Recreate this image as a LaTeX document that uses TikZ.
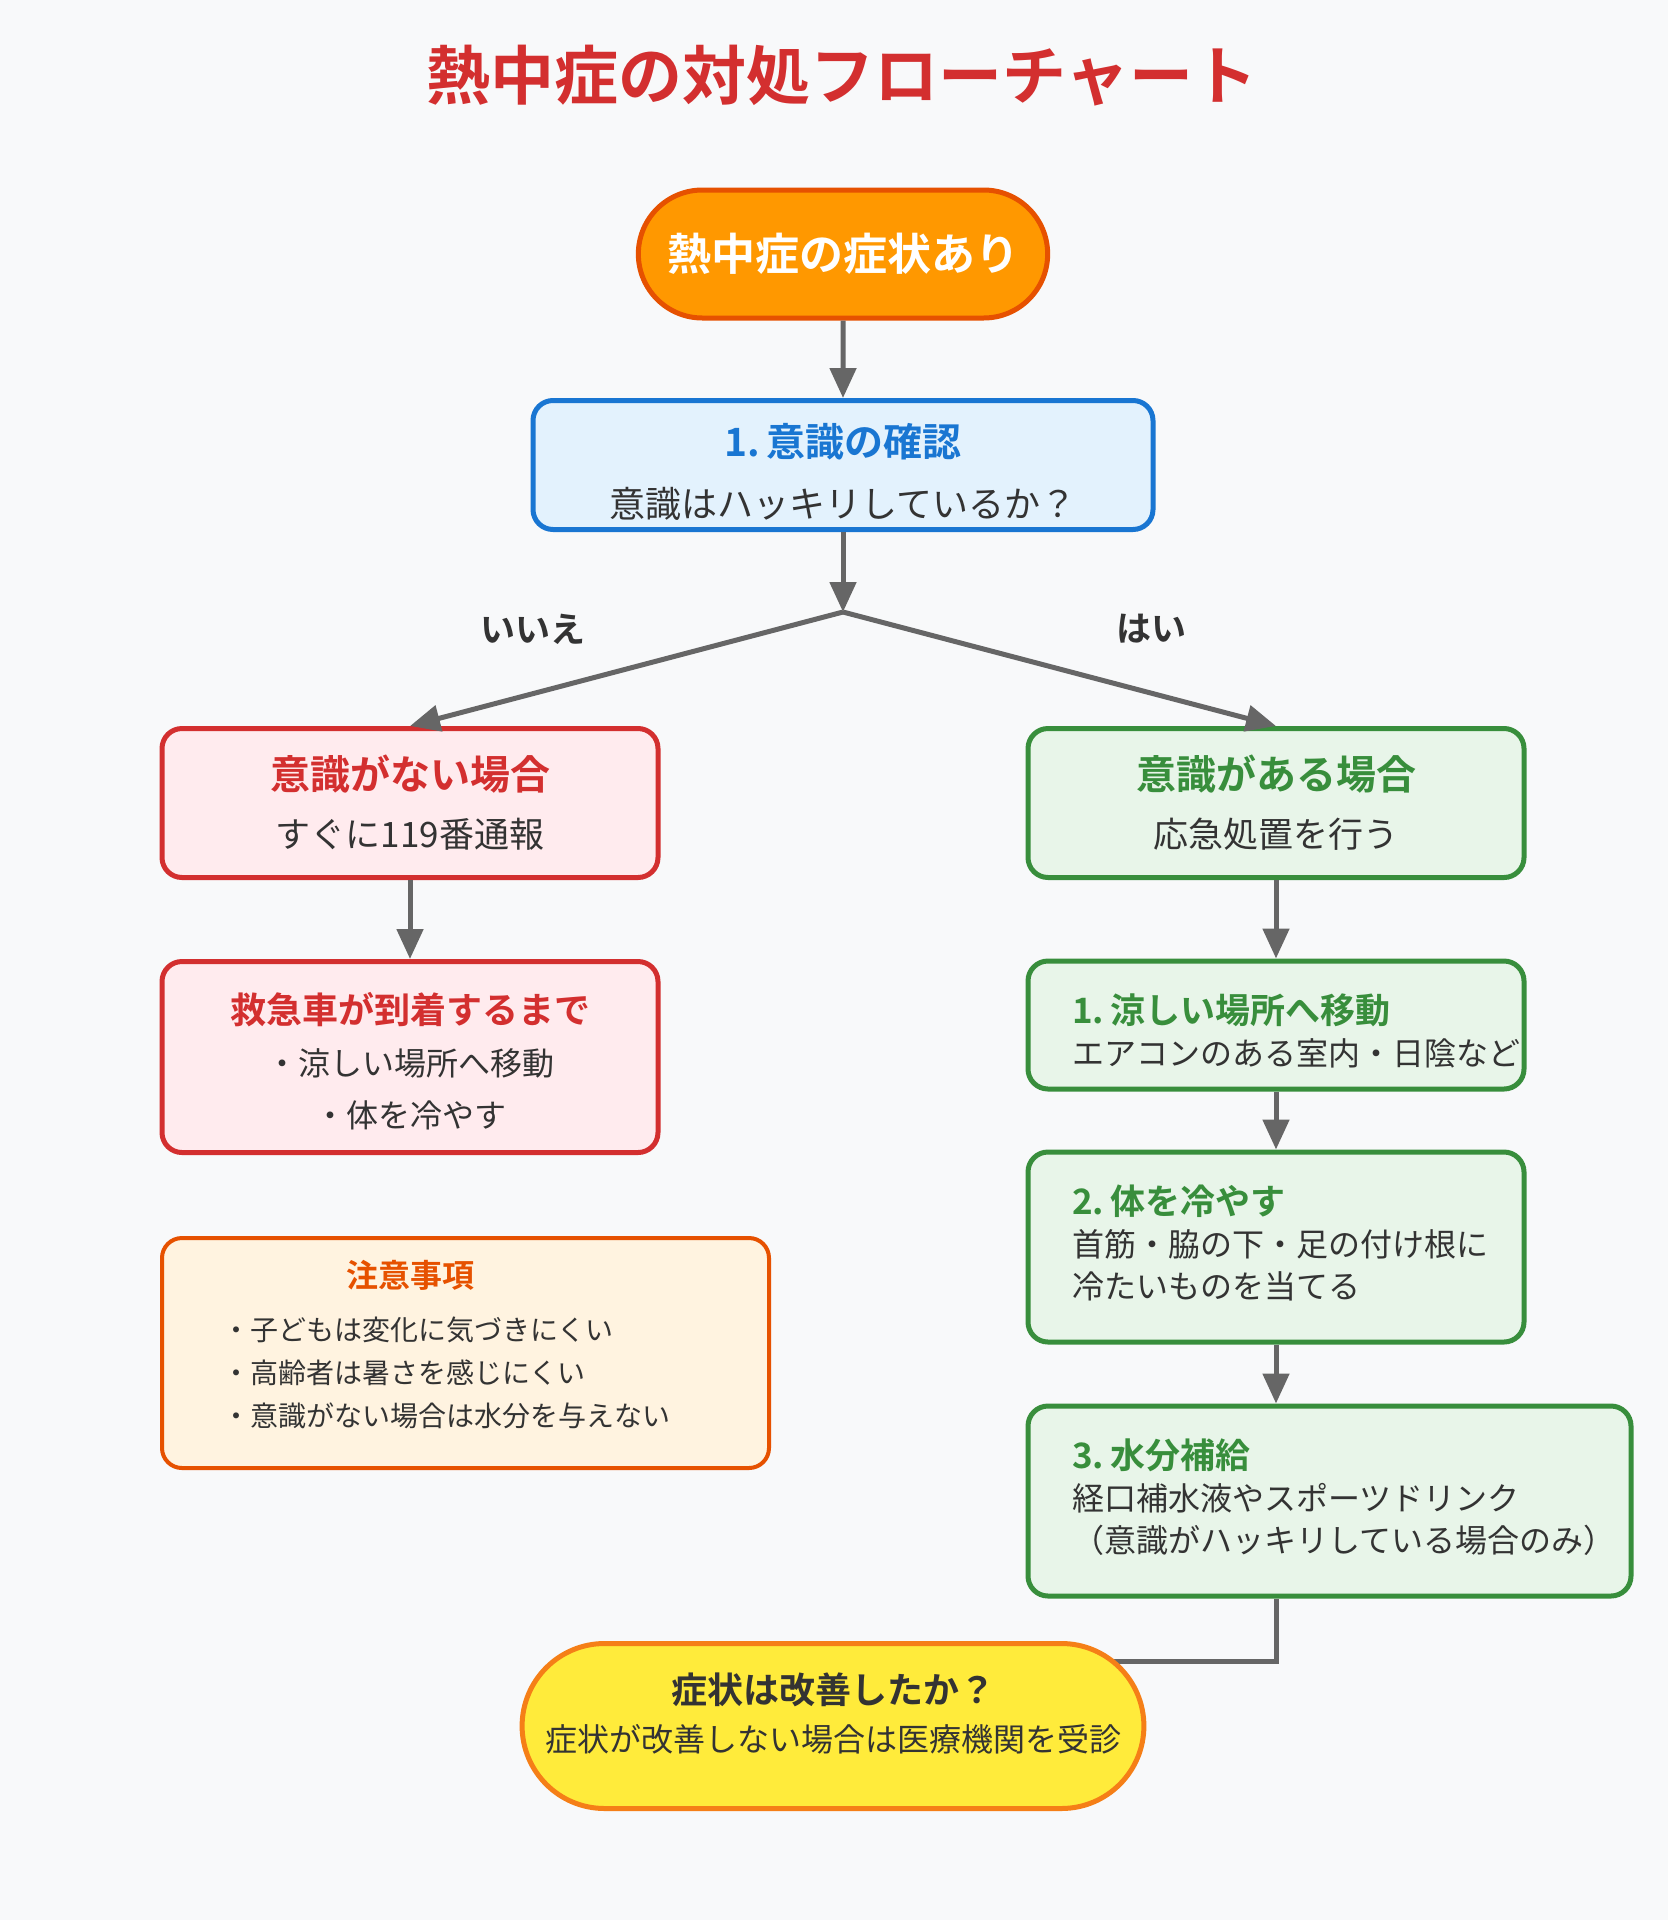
\documentclass[tikz,border=0pt]{standalone}
\usepackage{fontspec}
\setmainfont{Noto Sans CJK JP}[BoldFont={Noto Sans CJK JP Bold}]
\usetikzlibrary{arrows.meta,shapes.misc}
\definecolor{paper}{HTML}{F8F9FA}
\definecolor{ink}{HTML}{333333}
\definecolor{wire}{HTML}{666666}
\definecolor{heat}{HTML}{D32F2F}
\definecolor{heatfill}{HTML}{FFEBEE}
\definecolor{sun}{HTML}{FF9800}
\definecolor{sunline}{HTML}{E65100}
\definecolor{calm}{HTML}{1976D2}
\definecolor{calmfill}{HTML}{E3F2FD}
\definecolor{leaf}{HTML}{388E3C}
\definecolor{leaffill}{HTML}{E8F5E9}
\definecolor{notefill}{HTML}{FFF3E0}
\definecolor{lemon}{HTML}{FFEB3B}
\definecolor{lemonline}{HTML}{F57F17}
\newcommand{\fs}[2]{\fontsize{#1}{#2}\selectfont}
\begin{document}
\begin{tikzpicture}[x=1pt,y=-1pt,
    box/.style={draw,line width=5pt,rounded corners=20pt,minimum width=496pt,align=center,text=ink},
    pill/.style={rounded rectangle,draw,line width=5pt,align=center},
    stepbox/.style={box,draw=leaf,fill=leaffill,align=left,text width=408pt,inner xsep=44pt,font=\fs{32}{42}},
    link/.style={draw=wire,line width=5pt,-{Triangle[width=26pt,length=30pt]}}]
    \fill[paper] (0,0) rectangle (1668,1920);
    \node[text=heat,font=\fs{64}{64}\bfseries] (title) at (842,76) {熱中症の対処フローチャート};
    \node[pill,draw=sunline,fill=sun,text=white,font=\fs{44}{44}\bfseries,minimum width=416pt,minimum height=128pt] (start) at (843,254) {熱中症の症状あり};
    \node[box,draw=calm,fill=calmfill,minimum width=620pt,minimum height=129pt,font=\fs{36}{61},text height=104pt,text depth=0pt] (check) at (843,465)
        {{\fs{39}{61}\bfseries\color{calm}1.\kern6pt意識の確認}\\意識はハッキリしているか？};
    \coordinate (fork) at (843,612);
    \node[font=\fs{35}{35}\bfseries,text=ink] (no) at (533,629) {いいえ};
    \node[font=\fs{35}{35}\bfseries,text=ink] (yes) at (1151,629) {はい};
    \node[box,draw=heat,fill=heatfill,minimum height=149pt,font=\fs{35}{58}] (uncon) at (410,803)
        {{\fs{40}{58}\bfseries\color{heat}意識がない場合}\\すぐに119番通報};
    \node[box,draw=heat,fill=heatfill,minimum height=191pt,font=\fs{32}{52},text height=143pt,text depth=2pt] (wait) at (410,1057)
        {{\fs{36}{52}\bfseries\color{heat}救急車が到着するまで}\\・涼しい場所へ移動\\・体を冷やす};
    \node[box,draw=leaf,fill=leaffill,minimum height=149pt,font=\fs{35}{58}] (con) at (1276,803)
        {{\fs{40}{58}\bfseries\color{leaf}意識がある場合}\\応急処置を行う};
    \node[stepbox,minimum height=128pt,text depth=32pt] (cool) at (1276,1025)
        {{\fs{35}{42}\bfseries\color{leaf}1.\kern6pt涼しい場所へ移動}\\エアコンのある室内・日陰など};
    \node[stepbox,minimum height=190pt,text depth=94pt] (chill) at (1276,1247)
        {{\fs{35}{42}\bfseries\color{leaf}2.\kern6pt体を冷やす}\\首筋・脇の下・足の付け根に\\冷たいものを当てる};
    \node[stepbox,text width=515pt,minimum height=190pt,text depth=94pt] (drink) at (1329.5,1501)
        {{\fs{35}{42}\bfseries\color{leaf}3.\kern6pt水分補給}\\経口補水液やスポーツドリンク\\（意識がハッキリしている場合のみ）};
    \node[box,draw=sunline,fill=notefill,line width=4pt,minimum width=607pt,minimum height=230pt] (notes) at (465.5,1353) {};
    \node[text=sunline,font=\fs{32}{32}\bfseries] (notestitle) at (410,1275) {注意事項};
    \node[anchor=west,align=left,inner sep=0pt,text=ink,font=\fs{28}{43}] (noteitems) at (222,1373)
        {・子どもは変化に気づきにくい\\・高齢者は暑さを感じにくい\\・意識がない場合は水分を与えない};
    \draw[link] (start) -- (check);
    \draw[link] (check) -- (fork);
    \draw[link] (fork) -- (uncon.north);
    \draw[link] (fork) -- (con.north);
    \draw[link] (uncon) -- (wait);
    \draw[link] (con) -- (cool);
    \draw[link] (cool) -- (chill);
    \draw[link] (chill) -- (chill.south |- drink.north);
    \coordinate (join) at (833,1661);
    \draw[draw=wire,line width=5pt] (chill.south |- drink.south) |- (join);
    \node[pill,draw=lemonline,fill=lemon,text=ink,minimum width=620pt,minimum height=165pt,font=\fs{32}{48},text depth=28pt] (better) at (833,1726)
        {{\fs{36}{48}\bfseries 症状は改善したか？}\\症状が改善しない場合は医療機関を受診};
\end{tikzpicture}
\end{document}
